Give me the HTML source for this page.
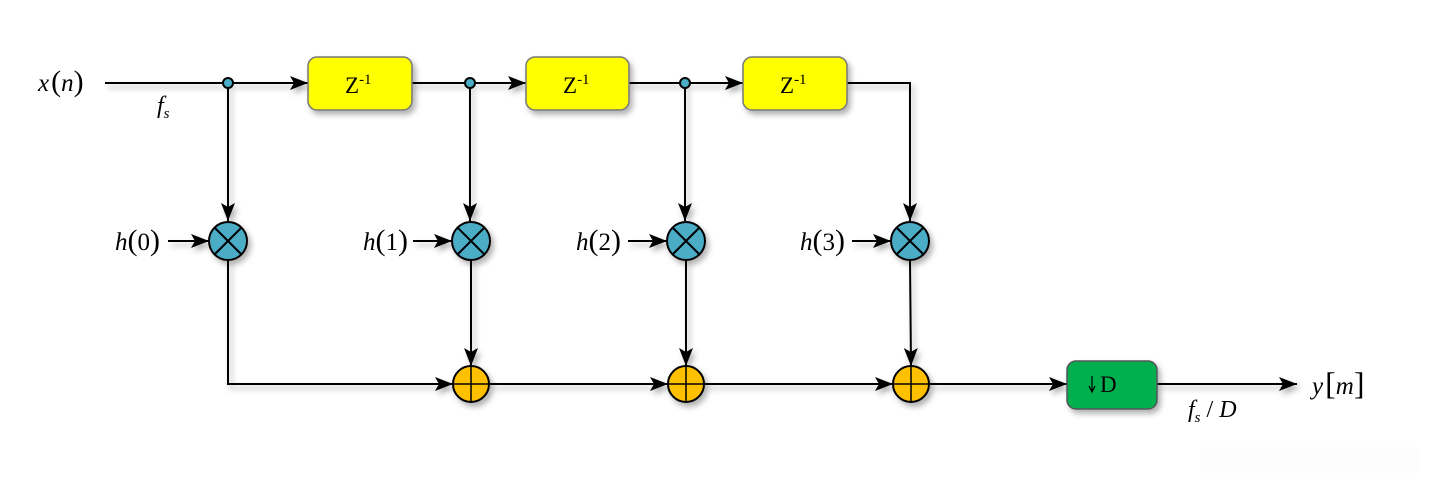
<!DOCTYPE html>
<html><head><meta charset="utf-8"><style>
html,body{margin:0;padding:0;background:#fff;}
svg{display:block;}
svg text{font-family:"Liberation Serif","DejaVu Serif",serif !important;}
</style></head><body>
<svg width="1430" height="483" viewBox="0 0 1430 483" xmlns="http://www.w3.org/2000/svg">
<defs>
<marker id="b" viewBox="0 0 18 14" markerWidth="18" markerHeight="14" refX="18" refY="7" orient="auto" markerUnits="userSpaceOnUse"><path d="M0,0 L18,7 L0,14 L4,7 Z" fill="#000"/></marker>
<filter id="s" x="-20%" y="-20%" width="150%" height="160%"><feDropShadow dx="3" dy="4" stdDeviation="3" flood-color="#000" flood-opacity="0.3"/></filter>
</defs>
<rect x="1200" y="447" width="220" height="26" fill="#fdfdfd"/>
<g stroke="#000" stroke-width="2" fill="none" filter="url(#s)">
<line x1="105" y1="83" x2="308" y2="83" marker-end="url(#b)"/>
<line x1="412" y1="83" x2="526" y2="83" marker-end="url(#b)"/>
<line x1="629" y1="83" x2="743" y2="83" marker-end="url(#b)"/>
<polyline points="847,83 910,83 910,221" marker-end="url(#b)"/>
<line x1="228" y1="83" x2="228" y2="221" marker-end="url(#b)"/>
<line x1="470" y1="83" x2="470" y2="221" marker-end="url(#b)"/>
<line x1="685" y1="83" x2="685" y2="221" marker-end="url(#b)"/>
<line x1="471" y1="260" x2="471" y2="366" marker-end="url(#b)"/>
<line x1="686" y1="260" x2="686" y2="366" marker-end="url(#b)"/>
<line x1="910" y1="260" x2="911" y2="366" marker-end="url(#b)"/>
<line x1="168" y1="241" x2="209" y2="241" marker-end="url(#b)"/>
<line x1="413" y1="241" x2="452" y2="241" marker-end="url(#b)"/>
<line x1="628" y1="241" x2="667" y2="241" marker-end="url(#b)"/>
<line x1="852" y1="241" x2="891" y2="241" marker-end="url(#b)"/>
<polyline points="228,260 228,384 453,384" marker-end="url(#b)"/>
<line x1="489" y1="384" x2="668" y2="384" marker-end="url(#b)"/>
<line x1="704" y1="384" x2="893" y2="384" marker-end="url(#b)"/>
<line x1="929" y1="384" x2="1067" y2="384" marker-end="url(#b)"/>
<line x1="1157" y1="384" x2="1297" y2="384" marker-end="url(#b)"/>
</g>
<g filter="url(#s)">
<rect x="308" y="57" width="104" height="53" rx="9" fill="#ffff00" stroke="#777" stroke-width="1.5"/>
<rect x="526" y="57" width="103" height="53" rx="9" fill="#ffff00" stroke="#777" stroke-width="1.5"/>
<rect x="743" y="57" width="104" height="53" rx="9" fill="#ffff00" stroke="#777" stroke-width="1.5"/>
<rect x="1067" y="361" width="90" height="48" rx="9" fill="#00b050" stroke="#555" stroke-width="1.5"/>
</g>
<g style="font-size:23px">
<text x="345" y="93">Z<tspan style="font-size:15px" dy="-9">-1</tspan></text>
<text x="563" y="93">Z<tspan style="font-size:15px" dy="-9">-1</tspan></text>
<text x="780" y="93">Z<tspan style="font-size:15px" dy="-9">-1</tspan></text>
<text x="1100" y="392">D</text>
</g>
<line x1="1092" y1="376" x2="1092" y2="391" stroke="#000" stroke-width="1.2"/>
<path d="M1089,386 L1092,392 L1095,386" fill="none" stroke="#000" stroke-width="1.2"/>
<g fill="#4bacc6" stroke="#000" stroke-width="2">
<circle cx="228" cy="83" r="5"/><circle cx="470" cy="83" r="5"/><circle cx="685" cy="83" r="5"/>
</g>
<g stroke="#000" stroke-width="2" filter="url(#s)">
<g transform="translate(228,241)"><circle r="19" fill="#4bacc6"/><path d="M-13,-13L13,13M13,-13L-13,13"/></g>
<g transform="translate(471,241)"><circle r="19" fill="#4bacc6"/><path d="M-13,-13L13,13M13,-13L-13,13"/></g>
<g transform="translate(686,241)"><circle r="19" fill="#4bacc6"/><path d="M-13,-13L13,13M13,-13L-13,13"/></g>
<g transform="translate(910,241)"><circle r="19" fill="#4bacc6"/><path d="M-13,-13L13,13M13,-13L-13,13"/></g>
<g transform="translate(471,384)"><circle r="18" fill="#ffc000"/><path d="M-18,0H18M0,-18V18" stroke-width="1.5"/></g>
<g transform="translate(686,384)"><circle r="18" fill="#ffc000"/><path d="M-18,0H18M0,-18V18" stroke-width="1.5"/></g>
<g transform="translate(911,384)"><circle r="18" fill="#ffc000"/><path d="M-18,0H18M0,-18V18" stroke-width="1.5"/></g>
</g>
<g style="font-size:25px">
<text x="38" y="91"><tspan font-style="italic">x</tspan><tspan style="font-size:30px" dx="2">(</tspan><tspan font-style="italic">n</tspan><tspan style="font-size:30px">)</tspan></text>
<text x="115" y="250"><tspan font-style="italic">h</tspan><tspan style="font-size:30px">(</tspan>0<tspan style="font-size:30px">)</tspan></text>
<text x="363" y="250"><tspan font-style="italic">h</tspan><tspan style="font-size:30px">(</tspan>1<tspan style="font-size:30px">)</tspan></text>
<text x="576" y="250"><tspan font-style="italic">h</tspan><tspan style="font-size:30px">(</tspan>2<tspan style="font-size:30px">)</tspan></text>
<text x="800" y="250"><tspan font-style="italic">h</tspan><tspan style="font-size:30px">(</tspan>3<tspan style="font-size:30px">)</tspan></text>
<text x="1312" y="394"><tspan font-style="italic">y</tspan><tspan style="font-size:32px" dx="2">[</tspan><tspan font-style="italic">m</tspan><tspan style="font-size:32px">]</tspan></text>
<text x="157" y="113" style="font-size:24px" font-style="italic">f<tspan style="font-size:15px" dy="5">s</tspan></text>
<text x="1188" y="417" style="font-size:24px" font-style="italic">f<tspan style="font-size:15px" dy="5">s</tspan><tspan dy="-5" font-style="normal"> / </tspan>D</text>
</g>
</svg>
</body></html>
